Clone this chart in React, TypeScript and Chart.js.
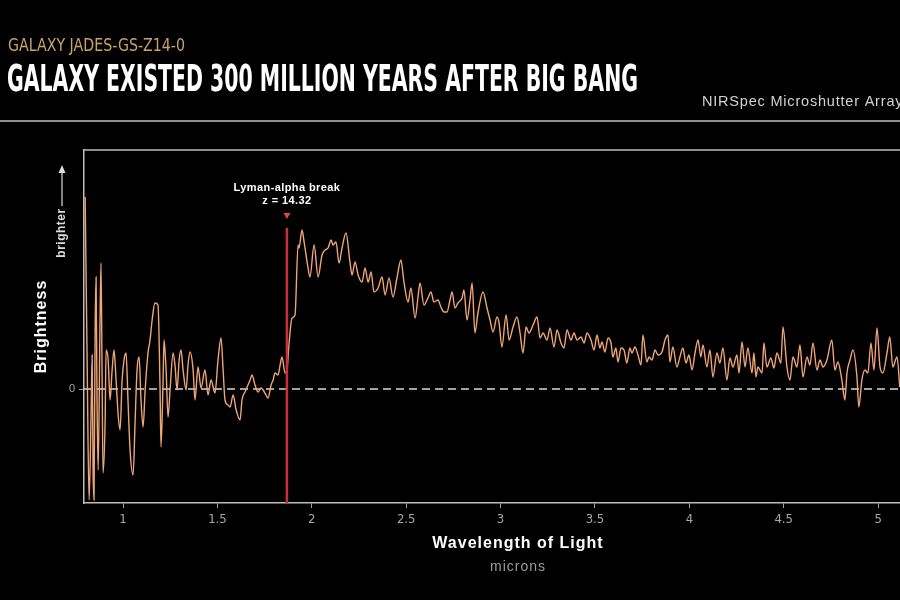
import React, { useEffect, useRef } from "react";
import { Chart, registerables } from "chart.js";

Chart.register(...registerables);

// ---- data ----
const wavelength = [
  0.799, 0.809, 0.820, 0.830, 0.836, 0.841, 0.846, 0.852, 0.857, 0.862, 0.868, 0.878, 0.883, 0.889, 0.894,
  0.905, 0.910, 0.921, 0.931, 0.942, 0.952, 0.963, 0.974, 0.984, 0.995, 1.005, 1.016, 1.026, 1.037, 1.053,
  1.064, 1.074, 1.085, 1.095, 1.106, 1.117, 1.132, 1.143, 1.154, 1.169, 1.185, 1.196, 1.201, 1.212, 1.217,
  1.228, 1.238, 1.249, 1.265, 1.275, 1.286, 1.297, 1.307, 1.318, 1.334, 1.344, 1.355, 1.371, 1.381, 1.397,
  1.413, 1.434, 1.450, 1.466, 1.487, 1.503, 1.519, 1.530, 1.540, 1.556, 1.567, 1.583, 1.599, 1.620, 1.630,
  1.646, 1.657, 1.673, 1.683, 1.699, 1.715, 1.731, 1.742, 1.757, 1.768, 1.784, 1.795, 1.805, 1.821, 1.832,
  1.842, 1.858, 1.869, 1.879, 1.895, 1.911, 1.927, 1.932, 1.948, 1.959, 1.980, 1.990, 2.012, 2.033, 2.054,
  2.070, 2.086, 2.102, 2.112, 2.128, 2.144, 2.160, 2.181, 2.202, 2.213, 2.229, 2.245, 2.266, 2.282, 2.298,
  2.314, 2.329, 2.351, 2.372, 2.388, 2.409, 2.430, 2.451, 2.472, 2.488, 2.510, 2.525, 2.547, 2.562, 2.573,
  2.594, 2.615, 2.631, 2.647, 2.668, 2.684, 2.700, 2.716, 2.732, 2.743, 2.758, 2.774, 2.796, 2.806, 2.822,
  2.838, 2.849, 2.864, 2.880, 2.907, 2.928, 2.944, 2.960, 2.981, 2.992, 3.007, 3.029, 3.045, 3.066, 3.087,
  3.103, 3.119, 3.135, 3.150, 3.172, 3.193, 3.209, 3.225, 3.246, 3.262, 3.283, 3.299, 3.320, 3.336, 3.352,
  3.373, 3.389, 3.405, 3.426, 3.442, 3.458, 3.479, 3.495, 3.511, 3.526, 3.537, 3.553, 3.569, 3.585, 3.595,
  3.611, 3.622, 3.638, 3.654, 3.669, 3.685, 3.696, 3.712, 3.728, 3.744, 3.754, 3.775, 3.786, 3.802, 3.818,
  3.834, 3.855, 3.871, 3.887, 3.897, 3.913, 3.934, 3.950, 3.966, 3.982, 3.998, 4.014, 4.030, 4.046, 4.061,
  4.072, 4.093, 4.109, 4.125, 4.146, 4.162, 4.178, 4.199, 4.215, 4.231, 4.252, 4.263, 4.279, 4.295, 4.310,
  4.332, 4.342, 4.353, 4.363, 4.385, 4.395, 4.411, 4.432, 4.448, 4.464, 4.485, 4.496, 4.517, 4.533, 4.549,
  4.570, 4.586, 4.602, 4.623, 4.639, 4.655, 4.676, 4.692, 4.708, 4.729, 4.755, 4.771, 4.787, 4.808, 4.824,
  4.835, 4.851, 4.867, 4.888, 4.898, 4.914, 4.930, 4.946, 4.962, 4.978, 4.994, 5.010, 5.025, 5.047, 5.062,
  5.078, 5.100, 5.115,
];

const brightness = [
  1.92, 0.39, -1.11, -0.31, 0.34, -0.81, -1.11, 0.59, 1.12, -0.11, -0.81, 0.69, 1.26, 0.09, -0.84,
  -0.31, 0.39, 0.29, -0.11, 0.19, 0.39, 0.09, -0.26, -0.41, 0.09, 0.29, 0.36, -0.11, -0.61, -0.86,
  -0.31, 0.19, 0.32, -0.11, -0.38, -0.01, 0.36, 0.49, 0.69, 0.86, 0.84, -0.01, -0.58, 0.09, 0.49,
  0.19, -0.28, -0.01, 0.36, 0.24, -0.01, 0.29, 0.39, 0.19, -0.01, 0.24, 0.37, 0.19, -0.11, 0.22,
  0.01, 0.19, -0.06, 0.09, -0.04, 0.29, 0.51, 0.19, -0.11, -0.16, -0.18, -0.06, -0.21, -0.31, -0.11,
  -0.03, 0.02, 0.09, 0.14, 0.04, -0.03, 0.01, -0.01, -0.06, -0.09, 0.04, 0.09, 0.16, 0.14, 0.24,
  0.32, 0.16, 0.20, 0.45, 0.71, 0.74, 1.44, 1.41, 1.59, 1.47, 1.21, 1.12, 1.44, 1.12, 1.34,
  1.39, 1.41, 1.49, 1.44, 1.47, 1.26, 1.41, 1.56, 1.27, 1.14, 1.27, 1.14, 1.07, 1.21, 1.07,
  1.17, 0.97, 1.01, 1.12, 0.94, 1.11, 0.92, 1.11, 1.29, 1.07, 0.87, 1.01, 0.71, 0.91, 1.06,
  0.84, 0.91, 0.97, 0.87, 0.89, 0.82, 0.77, 0.77, 0.89, 0.97, 0.81, 0.86, 0.91, 0.99, 0.69,
  0.89, 1.06, 0.56, 0.76, 0.97, 0.81, 0.69, 0.57, 0.72, 0.66, 0.42, 0.74, 0.49, 0.62, 0.72,
  0.56, 0.36, 0.62, 0.56, 0.64, 0.72, 0.51, 0.56, 0.49, 0.61, 0.42, 0.59, 0.46, 0.41, 0.59,
  0.49, 0.56, 0.49, 0.52, 0.46, 0.56, 0.49, 0.39, 0.54, 0.41, 0.47, 0.37, 0.51, 0.46, 0.32,
  0.41, 0.27, 0.41, 0.39, 0.26, 0.41, 0.36, 0.42, 0.34, 0.24, 0.54, 0.27, 0.32, 0.29, 0.39,
  0.34, 0.37, 0.49, 0.54, 0.27, 0.42, 0.22, 0.32, 0.41, 0.26, 0.34, 0.19, 0.36, 0.49, 0.32,
  0.44, 0.22, 0.39, 0.12, 0.36, 0.26, 0.41, 0.09, 0.31, 0.22, 0.34, 0.16, 0.47, 0.22, 0.41,
  0.16, 0.36, 0.12, 0.22, 0.16, 0.46, 0.22, 0.31, 0.21, 0.36, 0.26, 0.62, 0.22, 0.09, 0.32,
  0.22, 0.44, 0.12, 0.32, 0.24, 0.46, 0.19, 0.29, 0.22, 0.29, 0.49, 0.19, 0.27, 0.09, -0.11,
  0.16, 0.29, 0.39, 0.12, -0.18, 0.09, 0.19, 0.16, 0.46, 0.19, 0.61, 0.22, 0.16, 0.36, 0.52,
  0.22, 0.32, 0.02,
];

const xTickValues = [1, 1.5, 2, 2.5, 3, 3.5, 4, 4.5, 5];
const yTickValues = [0];
const xRange = [0.793, 5.116];
const yRange = [-1.14, 2.39];

const breakWavelength = 1.868;
const breakTop = 1.61;
const breakMarker = 1.74;
const breakLabels = ["Lyman-alpha break", "z = 14.32"];

const kicker = "GALAXY JADES-GS-Z14-0";
const headline = "GALAXY EXISTED 300 MILLION YEARS AFTER BIG BANG";
const instrument = "NIRSpec Microshutter Array";
const xTitle = "Wavelength of Light";
const xUnit = "microns";
const yTitle = "Brightness";
const yHint = "brighter";

const NARROW = '"Liberation Sans Narrow", "DejaVu Sans Condensed", "Arial Narrow", sans-serif';
const SANS = '"Liberation Sans", Arial, "DejaVu Sans", sans-serif';

function fitText(ctx: CanvasRenderingContext2D, text: string, x: number, y: number, width: number, font: string, color: string) {
  ctx.save();
  ctx.font = font;
  ctx.fillStyle = color;
  ctx.textAlign = "left";
  ctx.textBaseline = "alphabetic";
  const w = ctx.measureText(text).width;
  ctx.translate(x, y);
  ctx.scale(width / w, 1);
  ctx.fillText(text, 0, 0);
  ctx.restore();
}

function spacedText(ctx: any, text: string, x: number, y: number, font: string, color: string, spacing: string, align: CanvasTextAlign = "center") {
  ctx.save();
  ctx.font = font;
  ctx.fillStyle = color;
  ctx.textAlign = align;
  ctx.textBaseline = "middle";
  try { ctx.letterSpacing = spacing; } catch (e) {}
  ctx.fillText(text, x, y);
  ctx.restore();
}

const decor = {
  id: "decor",
  afterDraw(chart: any) {
    const ctx = chart.ctx as CanvasRenderingContext2D;
    const { left, right, top, bottom } = chart.chartArea;
    const xs = chart.scales.x;

    ctx.save();
    ctx.strokeStyle = "#bdbdbd";
    ctx.lineWidth = 1.5;
    ctx.beginPath();
    ctx.moveTo(left, top);
    ctx.lineTo(right, top);
    ctx.stroke();
    ctx.restore();

    // header
    fitText(ctx, kicker, 8, 51, 177, `18px ${NARROW}`, "#c6a46a");
    fitText(ctx, headline, 7, 91, 631, `bold 38px ${NARROW}`, "#ffffff");
    ctx.save();
    ctx.fillStyle = "#8e8e8e";
    ctx.fillRect(0, 120, 900, 2);
    ctx.restore();
    spacedText(ctx, instrument, 702, 102, `14.5px ${SANS}`, "#d2d2d2", "0.8px", "left");

    // break annotation
    const bx = xs.getPixelForValue(breakWavelength);
    spacedText(ctx, breakLabels[0], bx, 188, `bold 11px ${SANS}`, "#ffffff", "0.4px");
    spacedText(ctx, breakLabels[1], bx, 201, `bold 11px ${SANS}`, "#ffffff", "0.4px");

    // y titles
    ctx.save();
    ctx.translate(42, (top + bottom) / 2);
    ctx.rotate(-Math.PI / 2);
    spacedText(ctx, yTitle, 0, 0, `bold 16px ${SANS}`, "#ffffff", "1px");
    ctx.restore();

    ctx.save();
    ctx.translate(62, 233);
    ctx.rotate(-Math.PI / 2);
    spacedText(ctx, yHint, 0, 0, `bold 12px ${SANS}`, "#dcdcdc", "0.5px");
    ctx.restore();

    ctx.save();
    ctx.strokeStyle = "#dcdcdc";
    ctx.fillStyle = "#dcdcdc";
    ctx.lineWidth = 1.2;
    ctx.beginPath();
    ctx.moveTo(62, 206);
    ctx.lineTo(62, 172);
    ctx.stroke();
    ctx.beginPath();
    ctx.moveTo(62, 165);
    ctx.lineTo(58.5, 173);
    ctx.lineTo(65.5, 173);
    ctx.closePath();
    ctx.fill();
    ctx.restore();

    // x titles
    spacedText(ctx, xTitle, 518, 544, `bold 16px ${SANS}`, "#ffffff", "1px");
    spacedText(ctx, xUnit, 518, 567, `14px ${SANS}`, "#9c9c9c", "1px");
  },
};

export default function App() {
  const ref = useRef<HTMLCanvasElement | null>(null);

  useEffect(() => {
    if (!ref.current) return;
    const spectrum = wavelength.map((w, i) => ({ x: w, y: brightness[i] }));
    const chart = new Chart(ref.current, {
      type: "line",
      data: {
        datasets: [
          {
            data: [{ x: breakWavelength, y: yRange[0] }, { x: breakWavelength, y: breakTop }],
            borderColor: "#c9313a",
            borderWidth: 2.5,
            pointRadius: 0,
            order: 0,
          },
          {
            data: [{ x: breakWavelength, y: breakMarker }],
            showLine: false,
            pointStyle: "triangle",
            rotation: 180,
            pointRadius: 4,
            backgroundColor: "#e2454e",
            borderWidth: 0,
            order: 0,
          },
          {
            data: spectrum,
            borderColor: "#efa677",
            borderWidth: 1.4,
            pointRadius: 0,
            cubicInterpolationMode: "monotone",
            order: 1,
          },
          {
            data: [{ x: xRange[0], y: 0 }, { x: xRange[1], y: 0 }],
            borderColor: "#d8d8d8",
            borderWidth: 1.5,
            borderDash: [8, 5],
            pointRadius: 0,
            order: 2,
          },
        ] as any,
      },
      options: {
        animation: false,
        responsive: false,
        events: [],
        layout: { autoPadding: false, padding: { top: 150, left: 0, right: 0, bottom: 0 } },
        plugins: { legend: { display: false }, tooltip: { enabled: false }, title: { display: false } },
        scales: {
          x: {
            type: "linear",
            min: xRange[0],
            max: xRange[1],
            bounds: "data",
            afterBuildTicks: (s: any) => { s.ticks = xTickValues.map((v) => ({ value: v })); },
            afterFit: (s: any) => { s.height = 97; s.paddingLeft = 0; s.paddingRight = 0; },
            grid: { display: true, drawOnChartArea: false, drawTicks: true, tickLength: 5, color: "#a0a0a0", lineWidth: 1 },
            border: { display: true, color: "#bdbdbd", width: 1.5 },
            ticks: {
              color: "#a8a8a8",
              font: { family: NARROW, size: 13 },
              padding: 4,
              maxRotation: 0,
              autoSkip: false,
              callback: (v: any) => String(v),
            },
          },
          y: {
            type: "linear",
            min: yRange[0],
            max: yRange[1],
            bounds: "data",
            afterBuildTicks: (s: any) => { s.ticks = yTickValues.map((v) => ({ value: v })); },
            afterFit: (s: any) => { s.width = 84; s.paddingTop = 0; s.paddingBottom = 0; },
            grid: { display: true, drawOnChartArea: false, drawTicks: true, tickLength: 5, color: "#a0a0a0", lineWidth: 1 },
            border: { display: true, color: "#bdbdbd", width: 1.5 },
            ticks: {
              color: "#a8a8a8",
              font: { family: SANS, size: 11 },
              padding: 4,
              callback: (v: any) => String(v),
            },
          },
        },
      } as any,
      plugins: [decor],
    });
    return () => chart.destroy();
  }, []);

  return (
    <div style={{ position: "fixed", left: 0, top: 0, width: 900, height: 600, background: "#000", overflow: "hidden" }}>
      <canvas ref={ref} width={900} height={600} style={{ display: "block" }} />
    </div>
  );
}
